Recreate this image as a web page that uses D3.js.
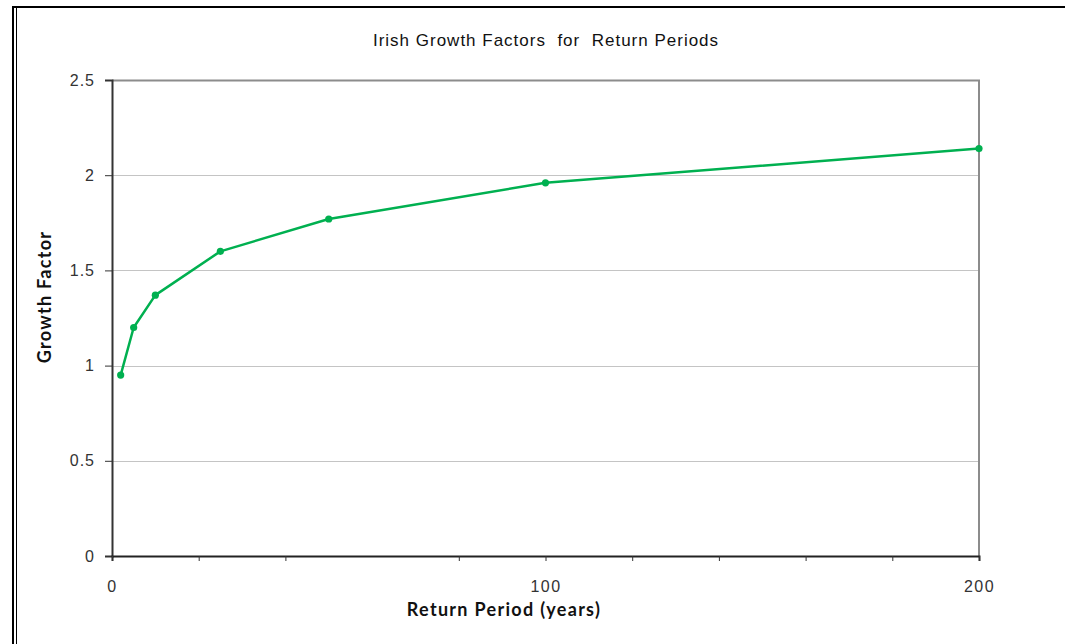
<!DOCTYPE html>
<html>
<head>
<meta charset="utf-8">
<script src="https://cdn.jsdelivr.net/npm/d3@7"></script>
<style>
  html, body { margin: 0; padding: 0; background: #fff; }
  svg { display: block; }
</style>
</head>
<body>
<svg id="chart" width="1065" height="644"></svg>
<script>
// Return periods (years) and the matching growth factors
const returnPeriods = [2, 5, 10, 25, 50, 100, 200];
const growthFactors = [0.95, 1.20, 1.37, 1.60, 1.77, 1.96, 2.14];

// Axis ticks
const xTickValues = [0, 20, 40, 80, 100, 120, 140, 160, 180, 200];
const xTickLabels = [0, 100, 200];
const yTickValues = [0, 0.5, 1, 1.5, 2, 2.5];

const chartTitle = "Irish Growth Factors  for  Return Periods";
const xTitle = "Return Period (years)";
const yTitle = "Growth Factor";

const svg = d3.select("#chart");
const plot = { left: 112, right: 979, top: 80, bottom: 556 };
const green = "#00b050";
const tickFont = "'Liberation Sans', Arial, sans-serif";
const titleFont = "Lato, 'Open Sans', sans-serif";

const x = d3.scaleLinear().domain([0, 200]).range([plot.left, plot.right]);
const y = d3.scaleLinear().domain([0, 2.5]).range([plot.bottom, plot.top]);

// Outer frame
svg.append("line").attr("x1", 13).attr("x2", 13).attr("y1", 6).attr("y2", 644)
  .attr("stroke", "#000").attr("stroke-width", 2);
svg.append("line").attr("x1", 16.5).attr("x2", 16.5).attr("y1", 8).attr("y2", 644)
  .attr("stroke", "#000").attr("stroke-width", 1);
svg.append("line").attr("x1", 12).attr("x2", 1065).attr("y1", 7).attr("y2", 7)
  .attr("stroke", "#000").attr("stroke-width", 2);

// Horizontal gridlines
svg.append("g").selectAll("line")
  .data(yTickValues.filter(v => v > 0 && v < 2.5))
  .join("line")
  .attr("x1", plot.left).attr("x2", plot.right)
  .attr("y1", d => Math.round(y(d)) + 0.5).attr("y2", d => Math.round(y(d)) + 0.5)
  .attr("stroke", "#c4c4c4").attr("stroke-width", 1);

// Plot area border (top and right)
svg.append("path")
  .attr("d", `M${plot.left},${plot.top + 0.5}H${plot.right}V${plot.bottom}`)
  .attr("fill", "none").attr("stroke", "#8c8c8c").attr("stroke-width", 2);

// Y axis
const yAxis = d3.axisLeft(y).tickValues(yTickValues).tickSize(7).tickPadding(10)
  .tickFormat(d => d3.format("")(d));
const gy = svg.append("g").attr("transform", `translate(${plot.left},0)`).call(yAxis);
gy.attr("font-size", null).attr("font-family", null);
gy.select(".domain").attr("stroke", "#333").attr("stroke-width", 2);
gy.selectAll(".tick line").attr("stroke", "#333");
gy.selectAll(".tick text")
  .style("font-family", tickFont)
  .style("font-size", "16px").attr("letter-spacing", 1).attr("fill", "#333");

// X axis
const xAxis = d3.axisBottom(x).tickValues(xTickValues).tickSize(5).tickPadding(20)
  .tickFormat(d => xTickLabels.includes(d) ? d : "");
const gx = svg.append("g").attr("transform", `translate(0,${plot.bottom})`).call(xAxis);
gx.attr("font-size", null).attr("font-family", null);
gx.select(".domain").attr("stroke", "#222").attr("stroke-width", 2);
gx.selectAll(".tick line").attr("stroke", "#333");
gx.selectAll(".tick text")
  .style("font-family", tickFont)
  .style("font-size", "16px").attr("letter-spacing", 1.5).attr("fill", "#333");

// Series line and markers
const line = d3.line().x((d, i) => x(returnPeriods[i])).y(d => y(d));
svg.append("path")
  .datum(growthFactors)
  .attr("d", line)
  .attr("fill", "none").attr("stroke", green).attr("stroke-width", 2.5)
  .attr("stroke-linejoin", "round");
svg.append("g").selectAll("circle")
  .data(growthFactors)
  .join("circle")
  .attr("cx", (d, i) => x(returnPeriods[i]))
  .attr("cy", d => y(d))
  .attr("r", 3.6)
  .attr("fill", green);

// Titles
svg.append("text")
  .attr("x", 546).attr("y", 46)
  .attr("text-anchor", "middle")
  .style("font-family", tickFont)
  .style("font-size", "17px").attr("letter-spacing", 1).attr("fill", "#111")
  .style("white-space", "pre")
  .text(chartTitle);

svg.append("text")
  .attr("x", 504).attr("y", 616)
  .attr("text-anchor", "middle")
  .style("font-family", titleFont)
  .attr("font-weight", "bold")
  .style("font-size", "18px").attr("letter-spacing", 1.3).attr("fill", "#111")
  .text(xTitle);

svg.append("text")
  .attr("transform", "translate(51,297) rotate(-90)")
  .attr("text-anchor", "middle")
  .style("font-family", titleFont)
  .attr("font-weight", "bold")
  .style("font-size", "18px").attr("letter-spacing", 1.3).attr("fill", "#111")
  .text(yTitle);
</script>
</body>
</html>
